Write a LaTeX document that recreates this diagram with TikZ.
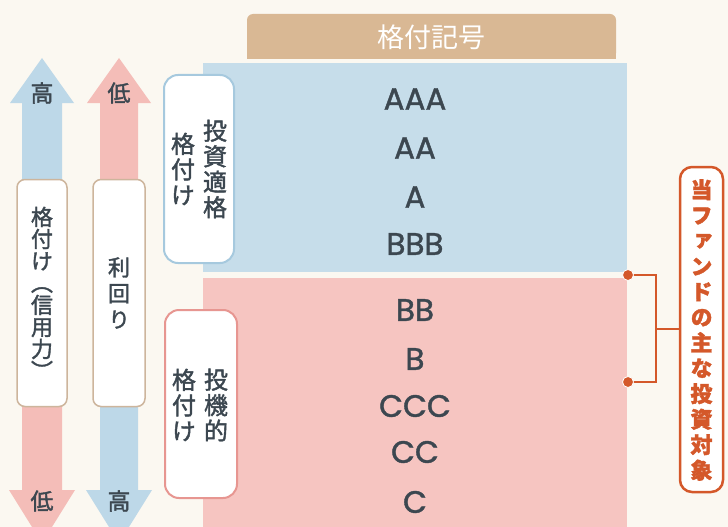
\documentclass[tikz,border=0pt]{standalone}
\usepackage{fontspec}
\setmainfont{Noto Sans CJK JP}
\newfontfamily\vfont[RawFeature=+vert, FakeBold=1.6]{Noto Sans CJK JP}
\newfontfamily\mfont[FakeBold=1.6]{Noto Sans CJK JP}
\newfontfamily\ratingfont[FakeBold=1.3]{Poppins}
\definecolor{bg}{HTML}{FBF8F1}
\definecolor{tanhdr}{HTML}{D9B894}
\definecolor{blueband}{HTML}{C6DDEA}
\definecolor{pinkband}{HTML}{F6C5C1}
\definecolor{bluearrow}{HTML}{BDD8E8}
\definecolor{pinkarrow}{HTML}{F4BDB8}
\definecolor{blueedge}{HTML}{A6C9DE}
\definecolor{pinkedge}{HTML}{E79691}
\definecolor{tanedge}{HTML}{CDB59C}
\definecolor{ink}{HTML}{3C4750}
\definecolor{orng}{HTML}{D4582A}
\tikzset{
  band/.style={inner sep=0pt, outer sep=0pt, anchor=north west},
  rating/.style={text=ink, font=\ratingfont\fontsize{31}{31}\selectfont, inner sep=0pt},
  labelbox/.style={draw, fill=white, rounded corners=14pt, line width=2pt, inner sep=0pt},
  vcol/.style={text=ink, align=center, inner sep=0pt, font=\vfont\fontsize{24}{25.5}\selectfont},
  arrowbox/.style={draw=tanedge, fill=white, rounded corners=8pt, line width=1.5pt, inner sep=0pt, minimum width=50pt, minimum height=227pt},
  endlabel/.style={text=ink, font=\mfont\fontsize{23}{23}\selectfont, inner sep=0pt},
}
\begin{document}
\begin{tikzpicture}[x=1pt,y=-1pt]
\fill[bg] (0,0) rectangle (728,527);
\useasboundingbox (0,0) rectangle (728,527);

% header
\fill[tanhdr, rounded corners=6pt] (247,14) rectangle (616,59);
\fill[tanhdr] (247,40) rectangle (616,59);
\node[text=white, font=\fontsize{27}{27}\selectfont, inner sep=0pt] (hdr) at (431,37) {格付記号};

% bands
\node[band, fill=blueband, minimum width=424pt, minimum height=209pt] (ig) at (203,63) {};
\node[band, fill=pinkband, minimum width=424pt, minimum height=252pt] (sg) at (203,278) {};

% ratings
\node[rating] (r1) at (415,99) {AAA};
\node[rating] (r2) at (415,148) {AA};
\node[rating] (r3) at (415,197) {A};
\node[rating] (r4) at (415,244) {BBB};
\node[rating] (r5) at (415,310) {BB};
\node[rating] (r6) at (415,359) {B};
\node[rating] (r7) at (415,406) {CCC};
\node[rating] (r8) at (415,452) {CC};
\node[rating] (r9) at (415,502) {C};

% category label boxes
\node[labelbox, draw=blueedge, minimum width=70pt, minimum height=188pt] (igbox) at (199,169) {};
\node[vcol] (igt1) at (215,169) {投\\資\\適\\格};
\node[vcol] (igt2) at (183,169) {格\\付\\け};
\node[labelbox, draw=pinkedge, minimum width=72pt, minimum height=188pt] (sgbox) at (201,404) {};
\node[vcol] (sgt1) at (216,405) {投\\機\\的};
\node[vcol] (sgt2) at (184,405) {格\\付\\け};

% left arrows
\fill[bluearrow] (42,58) -- (74,103) -- (62,103) -- (62,190) -- (22,190) -- (22,103) -- (10,103) -- cycle;
\fill[pinkarrow] (22,400) -- (62,400) -- (62,490) -- (75,490) -- (42,543) -- (9,490) -- (22,490) -- cycle;
\fill[pinkarrow] (119,58) -- (151,103) -- (138,103) -- (138,190) -- (100,190) -- (100,103) -- (87,103) -- cycle;
\fill[bluearrow] (100,400) -- (138,400) -- (138,490) -- (152,490) -- (119,543) -- (86,490) -- (100,490) -- cycle;

\node[arrowbox] (credit) at (42,293) {};
\node[vcol, font=\vfont\fontsize{22}{22}\selectfont] (creditt) at (42,293) {格\\付\\け\\（\\信\\用\\力\\）};
\node[arrowbox, minimum width=52pt] (yield) at (119,293) {};
\node[vcol, font=\vfont\fontsize{22}{26}\selectfont] (yieldt) at (119,293) {利\\回\\り};

\node[endlabel] (hi1) at (42,93) {高};
\node[endlabel] (lo1) at (119,93) {低};
\node[endlabel] (lo2) at (42,501) {低};
\node[endlabel] (hi2) at (119,501) {高};

% right bracket
\node[draw=orng, fill=white, line width=2.5pt, rounded corners=12pt, minimum width=43pt, minimum height=325pt, inner sep=0pt] (target) at (701.5,329.5) {};
\node[text=orng, align=center, inner sep=0pt, font=\vfont\bfseries\fontsize{22}{25.5}\selectfont] (targett) at (701.5,330) {当\\フ\\ァ\\ン\\ド\\の\\主\\な\\投\\資\\対\\象};
\coordinate (bk) at (656,329);
\draw[orng, line width=2pt] (628,275) -| (bk) |- (628,382);
\draw[orng, line width=2pt] (bk) -- (target.west |- bk);
\node[circle, fill=orng, draw=white, line width=0.8pt, inner sep=0pt, minimum size=11pt] (dot1) at (628,275) {};
\node[circle, fill=orng, draw=white, line width=0.8pt, inner sep=0pt, minimum size=11pt] (dot2) at (628,382) {};
\end{tikzpicture}
\end{document}
